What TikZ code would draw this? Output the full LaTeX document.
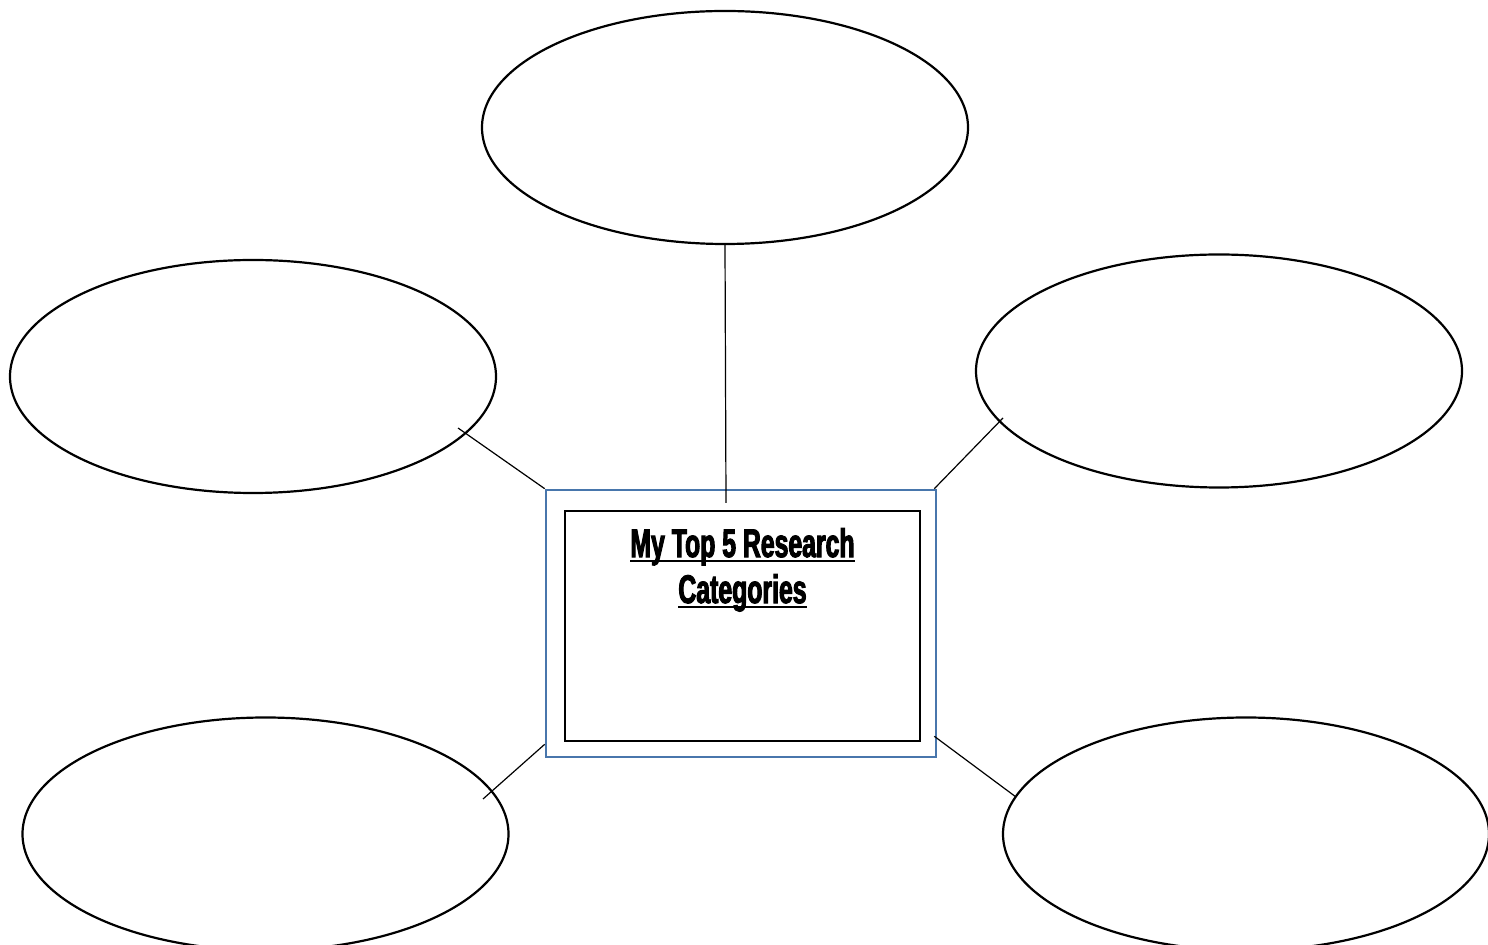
\documentclass[tikz,border=0pt]{standalone}
\usepackage{fontspec}
\newfontfamily\titlefont[FakeStretch=0.62, FakeBold=2.5]{Liberation Sans}
\newcommand{\ulthick}[1]{\leavevmode\setbox0\hbox{#1}\rlap{\vrule height -1.5pt depth 2.6pt width \wd0}\box0}
\usetikzlibrary{positioning, shapes.geometric}
\definecolor{wordblue}{RGB}{72,118,172}

\begin{document}
\begin{tikzpicture}[x=0.5pt, y=-0.5pt,
    category/.style={ellipse, draw, line width=1.1pt, minimum width=243pt, minimum height=116.5pt, inner sep=0pt},
    outerbox/.style={rectangle, draw=wordblue, line width=1.3pt, minimum width=195pt, minimum height=133.5pt, inner sep=0pt},
    innerbox/.style={rectangle, draw, line width=1pt, minimum width=177.5pt, minimum height=115pt, inner sep=0pt},
    link/.style={line width=0.6pt}]
    \useasboundingbox (0,0) rectangle (1488,945);

    \node (Top) [category] at (725,127.5) {};
    \node (UpperLeft) [category] at (253,376.5) {};
    \node (UpperRight) [category] at (1219,371) {};
    \node (LowerLeft) [category] at (265.5,834) {};
    \node (LowerRight) [category] at (1246,834) {};

    \node (Frame) [outerbox] at (741,623.5) {};
    \node (Center) [innerbox] at (742.5,626) {};
    \node (Title) [below=5.5pt of Center.north, align=center, font=\titlefont\bfseries\fontsize{20}{23}\selectfont] {\ulthick{My Top 5 Research}\\\ulthick{Categories}};

    \coordinate (TopEnd) at (726,503);
    \coordinate (ULEnd) at (458,428);
    \coordinate (UREnd) at (1003,418);
    \coordinate (LLEnd) at (483,799);
    \coordinate (LREnd) at (1016,797);

    \draw[link] (Top.south) -- (TopEnd);
    \draw[link] (ULEnd) -- (Frame.north west);
    \draw[link] (UREnd) -- ([xshift=-1.5pt]Frame.north east);
    \draw[link] (LLEnd) -- ([yshift=7pt]Frame.south west);
    \draw[link] (LREnd) -- ([xshift=-1.5pt, yshift=11pt]Frame.south east);
\end{tikzpicture}
\end{document}
